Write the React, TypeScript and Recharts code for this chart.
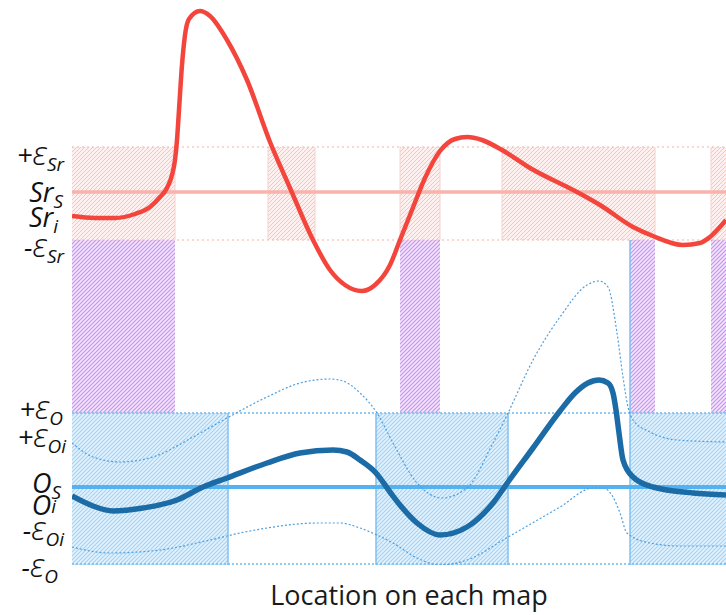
import React from 'react';
import { ComposedChart, Line, XAxis, YAxis, ReferenceArea, ReferenceLine } from 'recharts';

// Horizontal position = location on the map (0 = left edge of the plot),
// vertical value = one shared scale for both the Sr panel (top) and the O panel (bottom).
const srBandTop = 418; // +eps_Sr
const srStandard = 373; // Sr_S
const srBandBottom = 325; // -eps_Sr
const oBandTop = 152; // +eps_O
const oStandard = 78; // O_S
const oBandBottom = 0; // -eps_O

const srCurve = [
  { loc: 0, v: 349 }, { loc: 23, v: 347 }, { loc: 43, v: 347 }, { loc: 63, v: 351 },
  { loc: 78, v: 358 }, { loc: 88, v: 368 }, { loc: 95, v: 377 }, { loc: 100, v: 390 },
  { loc: 103, v: 405 }, { loc: 105, v: 425 }, { loc: 107, v: 455 }, { loc: 110, v: 500 },
  { loc: 113, v: 530 }, { loc: 117, v: 546 }, { loc: 128, v: 554 }, { loc: 138, v: 549 },
  { loc: 155, v: 525 }, { loc: 175, v: 485 }, { loc: 198, v: 423 }, { loc: 218, v: 377 },
  { loc: 241, v: 325 }, { loc: 258, v: 295 }, { loc: 273, v: 280 }, { loc: 290, v: 274 },
  { loc: 303, v: 280 }, { loc: 318, v: 300 }, { loc: 328, v: 325 }, { loc: 340, v: 355 },
  { loc: 353, v: 387 }, { loc: 368, v: 414 }, { loc: 383, v: 426 }, { loc: 395, v: 428 },
  { loc: 410, v: 425 }, { loc: 430, v: 415 }, { loc: 458, v: 397 }, { loc: 505, v: 373 },
  { loc: 528, v: 360 }, { loc: 561, v: 338 }, { loc: 581, v: 329 }, { loc: 611, v: 320 },
  { loc: 628, v: 322 }, { loc: 638, v: 328 }, { loc: 654, v: 345 },
];

const oCurve = [
  { loc: 0, v: 69 }, { loc: 21, v: 59 }, { loc: 41, v: 54 }, { loc: 71, v: 57 },
  { loc: 105, v: 65 }, { loc: 131, v: 78 }, { loc: 155, v: 87 }, { loc: 195, v: 102 },
  { loc: 228, v: 112 }, { loc: 261, v: 115 }, { loc: 275, v: 113 }, { loc: 288, v: 105 },
  { loc: 304, v: 92 }, { loc: 318, v: 73 }, { loc: 328, v: 60 }, { loc: 345, v: 42 },
  { loc: 368, v: 30 }, { loc: 395, v: 38 }, { loc: 421, v: 62 }, { loc: 436, v: 83 },
  { loc: 461, v: 117 }, { loc: 488, v: 154 }, { loc: 503, v: 172 }, { loc: 516, v: 182 },
  { loc: 527, v: 185 }, { loc: 536, v: 182 }, { loc: 541, v: 172 }, { loc: 544, v: 155 },
  { loc: 547, v: 132 }, { loc: 551, v: 105 }, { loc: 561, v: 88 }, { loc: 581, v: 78 },
  { loc: 621, v: 72 }, { loc: 654, v: 70 },
];

const oUpper = [
  { loc: 0, v: 122 }, { loc: 21, v: 108 }, { loc: 48, v: 103 }, { loc: 81, v: 108 },
  { loc: 121, v: 128 }, { loc: 155, v: 147 }, { loc: 195, v: 168 }, { loc: 228, v: 182 },
  { loc: 258, v: 186 }, { loc: 271, v: 184 }, { loc: 288, v: 172 }, { loc: 305, v: 152 },
  { loc: 321, v: 122 }, { loc: 345, v: 82 }, { loc: 370, v: 67 }, { loc: 395, v: 77 },
  { loc: 421, v: 122 }, { loc: 436, v: 152 }, { loc: 461, v: 205 }, { loc: 488, v: 248 },
  { loc: 515, v: 280 }, { loc: 527, v: 284 }, { loc: 536, v: 278 }, { loc: 545, v: 232 },
  { loc: 551, v: 188 }, { loc: 556, v: 158 }, { loc: 561, v: 145 }, { loc: 578, v: 133 },
  { loc: 605, v: 125 }, { loc: 654, v: 123 },
];

const oLower = [
  { loc: 0, v: 18 }, { loc: 38, v: 12 }, { loc: 88, v: 15 }, { loc: 138, v: 25 },
  { loc: 168, v: 32 }, { loc: 195, v: 37 }, { loc: 245, v: 42 }, { loc: 268, v: 42 },
  { loc: 288, v: 37 }, { loc: 305, v: 30 }, { loc: 321, v: 22 }, { loc: 345, v: 7 },
  { loc: 368, v: 0 }, { loc: 395, v: 5 }, { loc: 436, v: 28 }, { loc: 488, v: 58 },
  { loc: 521, v: 77 }, { loc: 531, v: 77 }, { loc: 541, v: 68 }, { loc: 548, v: 52 },
  { loc: 555, v: 32 }, { loc: 578, v: 22 }, { loc: 608, v: 19 }, { loc: 654, v: 19 },
];

// stretches of the map (start, end)
const srInBand = [[0, 103], [196, 243], [328, 368], [430, 583], [639, 654]];
const bothInBand = [[0, 103], [328, 368], [558, 583], [639, 654]];
const oInBand = [[0, 156], [304, 436], [558, 654]];

const yTicks = [418, 373, 349, 325, 152, 122, 78, 69, 18, 0];
const yTickLabels = [
  { base: '+ε', sub: 'Sr' },
  { base: 'Sr', sub: 'S' },
  { base: 'Sr', sub: 'i' },
  { base: '-ε', sub: 'Sr' },
  { base: '+ε', sub: 'O' },
  { base: '+ε', sub: 'Oi' },
  { base: 'O', sub: 'S' },
  { base: 'O', sup: 'i' },
  { base: '-ε', sub: 'Oi' },
  { base: '-ε', sub: 'O' },
];
const xLabel = 'Location on each map';

// baseline nudges and right edges so the labels sit where they do in the figure
const labelNudge = [18, 10, 11, 17, 6, 4, 6, 19, -7, 12];
const labelRight = [64, 63, 58, 64, 63, 66, 61, 56, 64, 58];

const labelFont = '"Open Sans", "Noto Sans", sans-serif';

const LabelTick = (props: any) => {
  const { y, payload } = props;
  const i = yTicks.indexOf(payload.value);
  if (i < 0) return null;
  const lab = yTickLabels[i];
  const parts = lab.base.split('ε');
  return (
    <text
      x={labelRight[i]}
      y={y + labelNudge[i]}
      textAnchor="end"
      fontFamily={labelFont}
      fontStyle="italic"
      fontSize={27}
      fill="#111"
    >
      {parts.length > 1 ? (
        <>
          <tspan>{parts[0]}</tspan>
          <tspan fontSize={33} fontWeight={300}>ε</tspan>
        </>
      ) : (
        <tspan>{lab.base}</tspan>
      )}
      {lab.sub && (
        <tspan fontSize={19} dy={6}>
          {lab.sub}
        </tspan>
      )}
      {lab.sup && (
        <tspan fontSize={19} dy={-2}>
          {lab.sup}
        </tspan>
      )}
    </text>
  );
};

const Hatches = () => (
  <svg width={0} height={0} style={{ position: 'absolute' }}>
    <defs>
      <pattern id="pinkHatch" width={4} height={4} patternUnits="userSpaceOnUse">
        <rect width={4} height={4} fill="#fdf0ef" />
        <path d="M0,4 L4,0 M-1,1 L1,-1 M3,5 L5,3" stroke="#f7c4be" strokeWidth={1} />
      </pattern>
      <pattern id="purpleHatch" width={4} height={4} patternUnits="userSpaceOnUse">
        <rect width={4} height={4} fill="#f3e6fc" />
        <path d="M0,4 L4,0 M-1,1 L1,-1 M3,5 L5,3" stroke="#c893f0" strokeWidth={1.2} />
      </pattern>
      <pattern id="blueHatch" width={4} height={4} patternUnits="userSpaceOnUse">
        <rect width={4} height={4} fill="#e4f2fc" />
        <path d="M0,4 L4,0 M-1,1 L1,-1 M3,5 L5,3" stroke="#a6d4f4" strokeWidth={1.2} />
      </pattern>
    </defs>
  </svg>
);

const pinkEdges = Array.from(new Set(srInBand.flat())).filter((x) => x > 0 && x < 654);

export default function App() {
  return (
    <div style={{ width: 726, height: 615, position: 'relative', background: '#fff' }}>
      <style>{'body{margin:0}'}</style>
      <Hatches />
      <ComposedChart width={726} height={615} margin={{ top: 0, right: 0, bottom: 0, left: 0 }}>
        <XAxis
          type="number"
          dataKey="loc"
          domain={[0, 654]}
          allowDataOverflow
          tick={false}
          tickLine={false}
          axisLine={false}
          height={50}
          label={{
            value: xLabel,
            position: 'insideBottom',
            offset: 10,
            dx: 10,
            fill: '#1a1a1a',
            fontSize: 27,
            fontFamily: labelFont,
          }}
        />
        <YAxis
          type="number"
          domain={[0, 565]}
          allowDataOverflow
          ticks={yTicks}
          interval={0}
          tick={<LabelTick />}
          tickLine={false}
          axisLine={false}
          width={72}
        />

        {srInBand.map(([a, b]) => (
          <ReferenceArea key={`p${a}`} x1={a} x2={b} y1={srBandBottom} y2={srBandTop} fill="url(#pinkHatch)" fillOpacity={1} stroke="none" />
        ))}
        {bothInBand.map(([a, b]) => (
          <ReferenceArea key={`u${a}`} x1={a} x2={b} y1={oBandTop} y2={srBandBottom} fill="url(#purpleHatch)" fillOpacity={1} stroke="none" />
        ))}
        {oInBand.map(([a, b]) => (
          <ReferenceArea key={`b${a}`} x1={a} x2={b} y1={oBandBottom} y2={oBandTop} fill="url(#blueHatch)" fillOpacity={1} stroke="none" />
        ))}

        {pinkEdges.map((x) => (
          <ReferenceLine key={`pe${x}`} segment={[{ x, y: srBandBottom }, { x, y: srBandTop }]} stroke="#f8d2cd" strokeWidth={1} />
        ))}
        {oInBand.flat().filter((x) => x > 0 && x < 654).map((x) => (
          <ReferenceLine
            key={`be${x}`}
            segment={[{ x, y: oBandBottom }, { x, y: x === bothInBand[2][0] ? srBandBottom : oBandTop }]}
            stroke="#7cc0f0"
            strokeWidth={1.5}
          />
        ))}

        <ReferenceLine y={srBandTop} stroke="#f6b3ab" strokeWidth={1.2} strokeDasharray="2 3" />
        <ReferenceLine y={srBandBottom} stroke="#f6b3ab" strokeWidth={1.2} strokeDasharray="2 3" />
        <ReferenceLine y={oBandTop} stroke="#6fbaf0" strokeWidth={1.5} strokeDasharray="2 2" />
        <ReferenceLine y={oBandBottom + 1} stroke="#6fbaf0" strokeWidth={1.5} strokeDasharray="2 2" />
        <ReferenceLine y={srStandard} stroke="#f9b3ac" strokeWidth={3.5} />
        <ReferenceLine y={oStandard} stroke="#55b2f0" strokeWidth={4} />

        <Line data={oUpper} dataKey="v" type="monotone" stroke="#4d9fe0" strokeWidth={1.2} strokeDasharray="2 2" dot={false} activeDot={false} isAnimationActive={false} />
        <Line data={oLower} dataKey="v" type="monotone" stroke="#4d9fe0" strokeWidth={1.2} strokeDasharray="2 2" dot={false} activeDot={false} isAnimationActive={false} />
        <Line data={srCurve} dataKey="v" type="monotone" stroke="#f4453c" strokeWidth={4.5} dot={false} activeDot={false} isAnimationActive={false} />
        <Line data={oCurve} dataKey="v" type="monotone" stroke="#1b6ca6" strokeWidth={5.5} dot={false} activeDot={false} isAnimationActive={false} />
      </ComposedChart>
    </div>
  );
}
